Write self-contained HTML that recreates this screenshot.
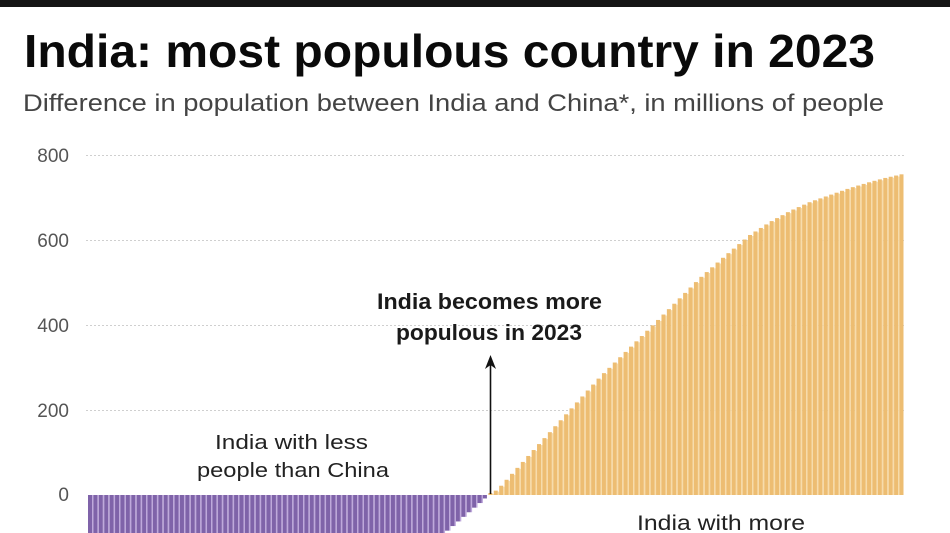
<!DOCTYPE html>
<html>
<head>
<meta charset="utf-8">
<style>
  html, body { margin: 0; padding: 0; background: #fff; }
  svg { display: block; }
  text { font-family: "Liberation Sans", "DejaVu Sans", sans-serif; }
</style>
</head>
<body>
<svg id="c" width="950" height="533" viewBox="0 0 950 533" xmlns="http://www.w3.org/2000/svg">
  <rect x="0" y="0" width="950" height="533" fill="#ffffff"/>
  <rect x="0" y="0" width="950" height="7" fill="#151515"/>

  <text x="24" y="67" font-size="46" font-weight="bold" fill="#0a0a0a" textLength="851" lengthAdjust="spacingAndGlyphs">India: most populous country in 2023</text>
  <text x="23" y="111" font-size="24" fill="#444444" textLength="861" lengthAdjust="spacingAndGlyphs">Difference in population between India and China*, in millions of people</text>

  <g stroke="#cfcfcf" stroke-width="1" stroke-dasharray="2 2">
    <line x1="86" y1="155.5" x2="906" y2="155.5"/>
    <line x1="86" y1="240.5" x2="906" y2="240.5"/>
    <line x1="86" y1="325.5" x2="906" y2="325.5"/>
    <line x1="86" y1="410.5" x2="906" y2="410.5"/>
  </g>

  <g font-size="19" fill="#555555" text-anchor="end">
    <text x="69" y="162">800</text>
    <text x="69" y="247">600</text>
    <text x="69" y="332">400</text>
    <text x="69" y="417">200</text>
    <text x="69" y="501">0</text>
  </g>

  <g id="bars"></g>

  <line x1="490.5" y1="494" x2="490.5" y2="362" stroke="#111" stroke-width="1.6"/>
  <polygon points="485,369 490.5,355 496,369 490.5,365" fill="#111"/>

  <g font-weight="bold" font-size="22" fill="#1a1a1a" text-anchor="middle">
    <text x="489.5" y="309" textLength="225" lengthAdjust="spacingAndGlyphs">India becomes more</text>
    <text x="489" y="340" textLength="186" lengthAdjust="spacingAndGlyphs">populous in 2023</text>
  </g>

  <g font-size="20" fill="#222222" text-anchor="middle">
    <text x="291.5" y="449" textLength="153" lengthAdjust="spacingAndGlyphs">India with less</text>
    <text x="293" y="477" textLength="192" lengthAdjust="spacingAndGlyphs">people than China</text>
    <text x="721" y="530" font-size="21" textLength="168" lengthAdjust="spacingAndGlyphs">India with more</text>
  </g>
</svg>
<script>
(function(){
  var ns = "http://www.w3.org/2000/svg";
  var g = document.getElementById("bars");
  var pts = [[493,493],[500,487],[550,432],[600,377],[650,328],[700,278],[725,256],[750,235],[770,222],[790,211],[810,202],[830,195],[850,188],[870,182],[885,178],[903,174],[910,173]];
  function topY(x){
    for (var i=0;i<pts.length-1;i++){
      if (x>=pts[i][0] && x<=pts[i+1][0]){
        var t=(x-pts[i][0])/(pts[i+1][0]-pts[i][0]);
        return pts[i][1]+t*(pts[i+1][1]-pts[i][1]);
      }
    }
    return x<pts[0][0]?pts[0][1]:pts[pts.length-1][1];
  }
  var p = 5.41, w = 4.0, base = 495;
  function rect(x,y,wd,h,fill){
    var r=document.createElementNS(ns,"rect");
    r.setAttribute("x",x.toFixed(2));r.setAttribute("y",y.toFixed(2));
    r.setAttribute("width",wd.toFixed(2));r.setAttribute("height",Math.max(0,h).toFixed(2));
    r.setAttribute("fill",fill);g.appendChild(r);
  }
  for (var i=0;i<151;i++){
    var x = 88 + i*p;
    if (i<74){
      var depth = Math.max(1.5,(487 - x)*0.85);
      var bottom = Math.min(540, base+depth);
      if (i<73) rect(x+w, base, p-w, bottom-base, "#bfa9dc");
      rect(x, base, w, bottom-base, "#7f63a9");
    } else {
      var cx = x + w/2;
      var ty = topY(cx);
      if (i<150) rect(x+w, ty+1, p-w, base-ty-1, "#f7dcab");
      rect(x, ty, w, base-ty, "#edbd72");
    }
  }
})();
</script>
</body>
</html>
